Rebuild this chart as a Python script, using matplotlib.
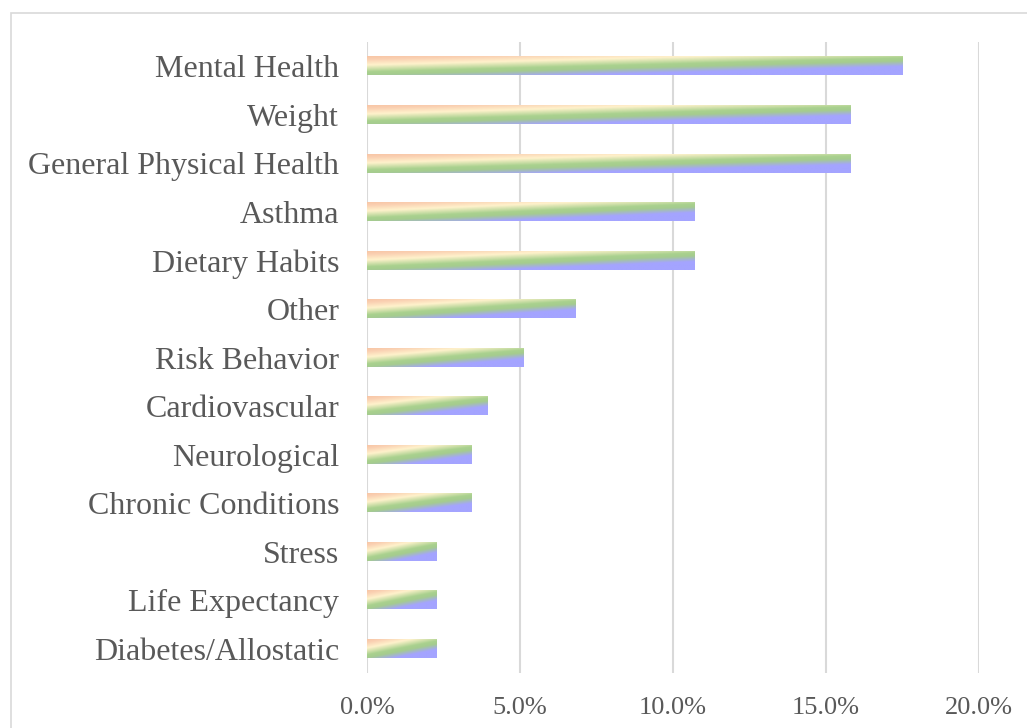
import matplotlib
matplotlib.use("Agg")
import matplotlib.pyplot as plt
import numpy as np
from matplotlib.colors import LinearSegmentedColormap
from matplotlib.patches import Rectangle
from matplotlib.ticker import FuncFormatter

# categories top to bottom
categories = ["Mental Health", "Weight", "General Physical Health", "Asthma",
              "Dietary Habits", "Other", "Risk Behavior", "Cardiovascular",
              "Neurological", "Chronic Conditions", "Stress", "Life Expectancy",
              "Diabetes/Allostatic"]
percent = [17.5, 15.8, 15.8, 10.7, 10.7, 6.8, 5.1, 3.95, 3.4, 3.4, 2.26, 2.26, 2.26]
xticks = [0, 5, 10, 15, 20]

plt.rcParams['font.family'] = ['Liberation Serif', 'DejaVu Serif']

fig = plt.figure(figsize=(10.27, 7.28), dpi=100)
ax = fig.add_axes([367/1027, 1 - 673/728, 612/1027, 631/728])

# gradient fill: orange -> cream -> green -> lavender, diagonal inside each bar
cmap = LinearSegmentedColormap.from_list(
    "grad", [(0.0, "#F8C6A6"), (0.1, "#FAD0B2"), (0.28, "#FFF2CC"),
             (0.5, "#A9D18E"), (0.6, "#A5CC8E"), (0.78, "#A4A4FF"), (1.0, "#A4A4FF")])
u = np.linspace(0, 1, 300)[None, :]
v = np.linspace(0, 1, 40)[:, None]
grad = 0.6 * v + 0.45 * u

n = len(categories)
ypos = np.arange(n)[::-1]
h = 0.38
for y, val in zip(ypos, percent):
    ax.imshow(grad, cmap=cmap, vmin=0, vmax=1, aspect='auto', interpolation='bilinear',
              extent=(0, val, y - h / 2, y + h / 2), origin='upper', zorder=3)

ax.set_xlim(0, 20)
ax.set_ylim(-0.5, n - 0.5)
ax.set_yticks(ypos)
ax.set_yticklabels(categories)
ax.set_xticks(xticks)
ax.xaxis.set_major_formatter(FuncFormatter(lambda x, p: "%.1f%%" % x))
ax.grid(axis='x', color='#D9D9D9', lw=1.5, zorder=0)
ax.set_axisbelow(True)
for s in ax.spines.values():
    s.set_visible(False)
ax.tick_params(axis='y', length=0, pad=20, labelsize=23, labelcolor='#595959')
ax.tick_params(axis='x', length=0, pad=17, labelsize=19, labelcolor='#595959')

# chart border
fig.patches.append(Rectangle((10.5/1027, -0.1), 1.2, 1 - 12.5/728 + 0.1,
                             transform=fig.transFigure, fill=False,
                             edgecolor='#D9D9D9', lw=1.2))

fig.savefig("out.png", dpi=100)
